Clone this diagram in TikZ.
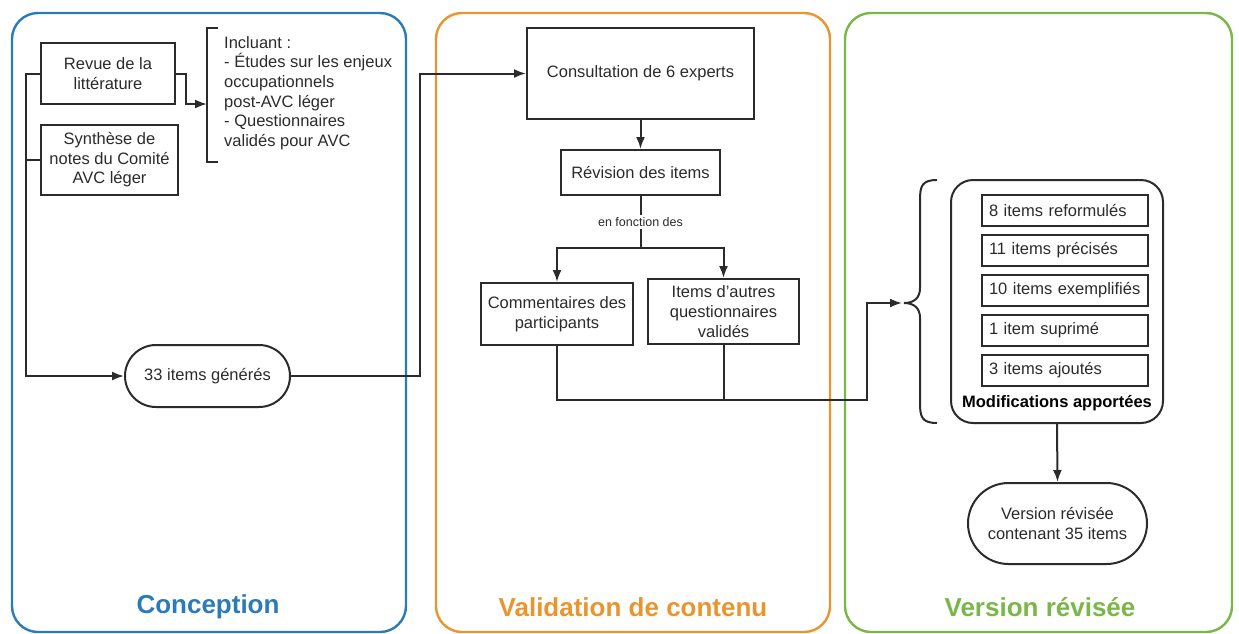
\documentclass[tikz,border=0pt]{standalone}
\usepackage{fontspec}
\setmainfont{Liberation Sans}
\usetikzlibrary{arrows.meta,shapes.misc,positioning}
\definecolor{cblue}{HTML}{2B7BB9}
\definecolor{corange}{HTML}{E8952F}
\definecolor{cgreen}{HTML}{7AB648}
\definecolor{ink}{HTML}{2B2B2B}
\tikzset{
  panel/.style={draw, line width=2.4pt, rounded corners=26pt},
  ptitle/.style={font=\fontsize{26}{30}\selectfont\bfseries},
  body/.style={font=\fontsize{16.5}{19.6}\selectfont, text=ink},
  box/.style={body, draw=ink, line width=2pt, align=center, inner sep=2pt},
  stadium/.style={body, draw=ink, line width=2pt, rounded rectangle, align=center, inner sep=2pt},
  itembox/.style={body, draw=ink, line width=2pt, minimum width=166pt, minimum height=31pt, text width=152pt, align=left, inner xsep=7pt, inner ysep=0pt},
  conn/.style={draw=ink, line width=2pt},
  arr/.style={conn, -{Latex[length=12pt,width=9pt]}},
}
\begin{document}
\begin{tikzpicture}[x=1pt,y=-1pt]
\useasboundingbox (0,0) rectangle (1239,633);
% panels
\draw[panel, cblue] (12,13) rectangle (406,632);
\draw[panel, corange] (436,13) rectangle (830,632);
\draw[panel, cgreen] (845,13) rectangle (1232,632);
\node[ptitle, text=cblue] (t1) at (208,607) {Conception};
\node[ptitle, text=corange] (t2) at (633,607) {Validation de contenu};
\node[ptitle, text=cgreen] (t3) at (1040,607) {Version révisée};

% Conception
\node[box, minimum width=134pt, minimum height=61pt] (revue) at (108,73.5) {Revue de la\\littérature};
\node[box, minimum width=137pt, minimum height=70pt] (synth) at (109.5,160) {Synthèse de\\notes du Comité\\AVC léger};
\draw[conn] (218,28) -- (207,28) -- (207,162) -- (218,162);
\coordinate (brk) at (207,104);
\node[body, align=left, anchor=west, inner sep=0pt] (incl) at (224,93) {Incluant :\\- Études sur les enjeux\\occupationnels\\post-AVC léger\\- Questionnaires\\validés pour AVC};
\draw[arr] (revue.east) -- ++(10,0) |- (brk);
\node[stadium, minimum width=169pt, minimum height=62pt] (items33) at (207.5,376) {33 items générés};
\coordinate (lbus) at (26,376);
\draw[arr] (revue.west) -| (lbus) -- (items33.west);
\draw[conn] (synth.west) -- (synth.west -| lbus);
\coordinate (j1) at (420,376);

% Validation
\node[box, minimum width=227pt, minimum height=91pt] (consult) at (640.5,73.5) {Consultation de 6 experts};
\draw[arr] (items33.east) -- (j1) |- (consult.west);
\node[box, minimum width=159pt, minimum height=45pt] (revision) at (640.5,172.5) {Révision des items};
\draw[arr] (consult) -- (revision);
\coordinate (fork) at (640.5,248);
\draw[conn] (revision.south) -- node[fill=white, inner sep=2pt, font=\fontsize{12.5}{14}\selectfont, text=ink] (enf) {en fonction des} (fork);
\node[box, minimum width=152pt, minimum height=62pt] (comm) at (557,314) {Commentaires des\\participants};
\node[box, minimum width=151pt, minimum height=65pt] (autres) at (723.5,311.5) {Items d’autres\\questionnaires\\validés};
\draw[arr] (fork) -| (comm.north);
\draw[arr] (fork) -| (autres.north);
\coordinate (bot) at (867,400);
\coordinate (bracetip) at (902,303);
\draw[conn] (autres.south) -- (autres.south |- bot);
\draw[arr] (comm.south) -- (comm.south |- bot) -- (bot) |- (bracetip);

% Version revisee
\draw[conn] (937,180) .. controls (922,180) and (920,186) .. (920,200) -- (920,288) .. controls (920,298) and (914,303) .. (904,303) .. controls (914,303) and (920,308) .. (920,318) -- (920,403) .. controls (920,417) and (922,423) .. (937,423);
\node[draw=ink, line width=2pt, rounded corners=22pt, minimum width=212pt, minimum height=243pt, inner sep=0pt] (mods) at (1057,301.5) {};
\node[itembox] (i1) at (1065,210.5) {8 items reformulés};
\node[itembox] (i2) at (1065,250.5) {11 items précisés};
\node[itembox] (i3) at (1065,290.5) {10 items exemplifiés};
\node[itembox] (i4) at (1065,330.5) {1 item suprimé};
\node[itembox] (i5) at (1065,370.5) {3 items ajoutés};
\node[body, font=\fontsize{16.5}{19.6}\selectfont\bfseries, text=black] (modlab) at (1057,403) {Modifications apportées};
\node[stadium, minimum width=183pt, minimum height=81pt] (final) at (1057.5,523.5) {Version révisée\\contenant 35 items};
\draw[arr] (mods.south) -- (final.north);
\end{tikzpicture}
\end{document}
